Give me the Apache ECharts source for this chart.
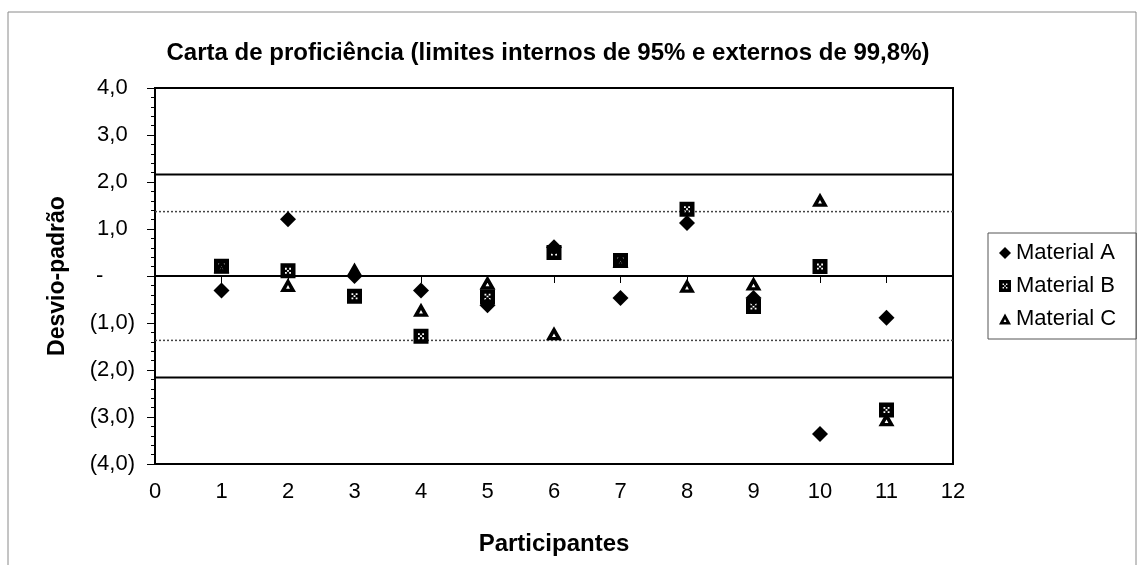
<!DOCTYPE html>
<html>
<head>
<meta charset="utf-8">
<script src="https://cdn.jsdelivr.net/npm/echarts@6/dist/echarts.min.js"></script>
<style>
  html, body { margin: 0; padding: 0; background: #fff; }
  #chart { width: 1141px; height: 565px; }
</style>
</head>
<body>
<div id="chart"></div>
<script>
// participantes 1..11
var participantes = [1, 2, 3, 4, 5, 6, 7, 8, 9, 10, 11];
var materialA = [-0.31, 1.21, 0.0, -0.31, -0.62, 0.61, -0.47, 1.13, -0.47, -3.36, -0.89];
var materialB = [0.21, 0.11, -0.43, -1.28, -0.44, 0.50, 0.33, 1.42, -0.65, 0.20, -2.85];
var materialC = [0.21, -0.19, 0.14, -0.72, -0.14, -1.22, 0.33, -0.21, -0.16, 1.62, -3.05];

// limites (externo 99,8%, interno 95%, centro)
var limiteExterno = 2.16;
var limiteInterno = 1.37;
var linhaCentral = 0;
var xLimites = [0, 12];

var fonte = '"Liberation Sans", Arial, sans-serif';

// simbolos com "furos" brancos, como no original
var simboloB = 'path://M0,0 L10,0 L10,10 L0,10 Z' +
  ' M3,3 L3,4.2 L4.2,4.2 L4.2,3 Z M5.8,3 L5.8,4.2 L7,4.2 L7,3 Z' +
  ' M4.4,4.4 L4.4,5.6 L5.6,5.6 L5.6,4.4 Z' +
  ' M3,5.8 L3,7 L4.2,7 L4.2,5.8 Z M5.8,5.8 L5.8,7 L7,7 L7,5.8 Z';
var simboloC = 'path://M5,0 L10,9 L0,9 Z M5,4.6 L3.8,6.9 L6.2,6.9 Z';

function pares(valores) {
  return participantes.map(function (p, i) { return [p, valores[i]]; });
}
function linha(v) {
  return xLimites.map(function (x) { return [x, v]; });
}

var myChart = echarts.init(document.getElementById('chart'));

var option = {
  backgroundColor: '#fff',
  animation: false,
  title: {
    text: 'Carta de proficiência (limites internos de 95% e externos de 99,8%)',
    left: 543,
    textAlign: 'center',
    top: 36,
    textStyle: {
      fontFamily: fonte,
      fontSize: 24,
      fontWeight: 'bold',
      color: '#000'
    }
  },
  graphic: [{
    type: 'rect',
    shape: { x: 8, y: 12, width: 1128, height: 600 },
    style: { fill: 'none', stroke: '#8a8a8a', lineWidth: 1 },
    silent: true
  }],
  legend: {
    orient: 'vertical',
    left: 988,
    top: 233,
    padding: [9, 20, 9, 11],
    itemGap: 11,
    itemWidth: 12,
    itemHeight: 12,
    borderColor: '#555',
    borderWidth: 1,
    textStyle: { fontFamily: fonte, fontSize: 22, color: '#000' },
    data: [
      { name: 'Material A', icon: 'diamond' },
      { name: 'Material B', icon: simboloB },
      { name: 'Material C', icon: simboloC }
    ]
  },
  grid: {
    left: 155,
    right: 188,
    top: 88,
    bottom: 101,
    show: true,
    borderColor: '#000',
    borderWidth: 2,
    backgroundColor: 'transparent'
  },
  xAxis: {
    type: 'value',
    min: 0,
    max: 12,
    interval: 1,
    name: 'Participantes',
    nameLocation: 'middle',
    nameGap: 68,
    nameTextStyle: { fontFamily: fonte, fontSize: 24, fontWeight: 'bold', color: '#000' },
    axisLine: { lineStyle: { color: '#000', width: 2 } },
    axisTick: { length: 7, lineStyle: { color: '#000' } },
    axisLabel: { margin: 17, fontFamily: fonte, fontSize: 22, color: '#000' },
    splitLine: { show: false }
  },
  yAxis: {
    type: 'value',
    min: -4,
    max: 4,
    interval: 1,
    name: 'Desvio-padrão',
    nameLocation: 'middle',
    nameGap: 86,
    nameTextStyle: { fontFamily: fonte, fontSize: 23, fontWeight: 'bold', color: '#000' },
    axisLine: { lineStyle: { color: '#000', width: 2 } },
    axisTick: { length: 8, lineStyle: { color: '#000' } },
    minorTick: { show: true, splitNumber: 5, length: 4, lineStyle: { color: '#000' } },
    axisLabel: {
      margin: 20,
      formatter: function (v) {
        if (v === 0) return '{t|-}{h|00)}';
        var s = Math.abs(v).toFixed(1).replace('.', ',');
        return v < 0 ? '{t|(' + s + ')}' : '{t|' + s + '}{h|)}';
      },
      rich: {
        t: { fontFamily: fonte, fontSize: 22, color: '#000' },
        h: { fontFamily: fonte, fontSize: 22, color: 'rgba(0,0,0,0)' }
      }
    },
    splitLine: { show: false }
  },
  series: [
    {
      name: 'externo+', type: 'line', data: linha(limiteExterno), symbol: 'none',
      lineStyle: { color: '#000', width: 2 }, silent: true, z: 1
    },
    {
      name: 'externo-', type: 'line', data: linha(-limiteExterno), symbol: 'none',
      lineStyle: { color: '#000', width: 2 }, silent: true, z: 1
    },
    {
      name: 'interno+', type: 'line', data: linha(limiteInterno), symbol: 'none',
      lineStyle: { color: '#444', width: 1.5, type: [2, 2] }, silent: true, z: 1
    },
    {
      name: 'interno-', type: 'line', data: linha(-limiteInterno), symbol: 'none',
      lineStyle: { color: '#444', width: 1.5, type: [2, 2] }, silent: true, z: 1
    },
    {
      name: 'centro', type: 'line', data: linha(linhaCentral), symbol: 'none',
      lineStyle: { color: '#000', width: 2 }, silent: true, z: 1
    },
    {
      name: 'Material A', type: 'scatter', data: pares(materialA),
      symbol: 'diamond', symbolSize: 16,
      itemStyle: { color: '#000', opacity: 1 }, z: 3
    },
    {
      name: 'Material B', type: 'scatter', data: pares(materialB),
      symbol: simboloB, symbolSize: 15,
      itemStyle: { color: '#000', opacity: 1 }, z: 4
    },
    {
      name: 'Material C', type: 'scatter', data: pares(materialC),
      symbol: simboloC, symbolSize: [16, 14],
      itemStyle: { color: '#000', opacity: 1 }, z: 5
    }
  ]
};

myChart.setOption(option);
</script>
</body>
</html>
